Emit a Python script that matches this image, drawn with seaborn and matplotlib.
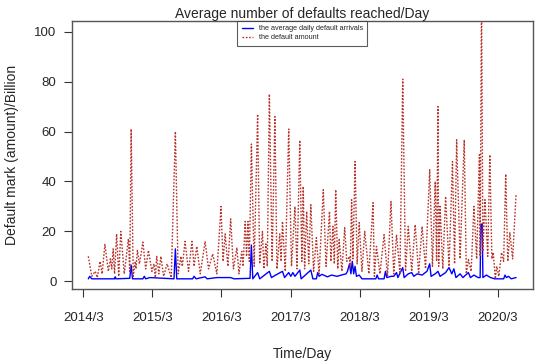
import matplotlib
matplotlib.use("Agg")
import matplotlib.pyplot as plt
import seaborn as sns
import pandas as pd

# ---- data (decimal year, value) ----
amount_time = [
    2014.24, 2014.29, 2014.34, 2014.37, 2014.41, 2014.44, 2014.48, 2014.53, 2014.56, 2014.58,
    2014.60, 2014.62, 2014.65, 2014.68, 2014.71, 2014.76, 2014.82, 2014.84, 2014.86, 2014.89,
    2014.92, 2014.93, 2014.95, 2014.98, 2015.03, 2015.07, 2015.11, 2015.16, 2015.19, 2015.21,
    2015.23, 2015.26, 2015.29, 2015.33, 2015.38, 2015.44, 2015.50, 2015.54, 2015.58, 2015.60,
    2015.64, 2015.69, 2015.74, 2015.77, 2015.81, 2015.86, 2015.93, 2015.98, 2016.04, 2016.10,
    2016.16, 2016.19, 2016.22, 2016.26, 2016.30, 2016.34, 2016.39, 2016.42, 2016.46, 2016.48,
    2016.51, 2016.53, 2016.55, 2016.57, 2016.60, 2016.64, 2016.69, 2016.72, 2016.76, 2016.78,
    2016.81, 2016.83, 2016.86, 2016.90, 2016.94, 2016.97, 2017.01, 2017.03, 2017.05, 2017.09,
    2017.14, 2017.18, 2017.23, 2017.26, 2017.30, 2017.33, 2017.35, 2017.37, 2017.40, 2017.43,
    2017.46, 2017.50, 2017.54, 2017.58, 2017.64, 2017.68, 2017.73, 2017.75, 2017.78, 2017.80,
    2017.82, 2017.85, 2017.87, 2017.91, 2017.95, 2017.98, 2018.02, 2018.03, 2018.05, 2018.07,
    2018.10, 2018.13, 2018.16, 2018.20, 2018.24, 2018.30, 2018.36, 2018.38, 2018.41, 2018.46,
    2018.52, 2018.57, 2018.62, 2018.66, 2018.70, 2018.75, 2018.79, 2018.83, 2018.87, 2018.92,
    2018.97, 2019.02, 2019.07, 2019.12, 2019.18, 2019.22, 2019.26, 2019.28, 2019.30, 2019.31,
    2019.33, 2019.37, 2019.41, 2019.46, 2019.51, 2019.54, 2019.57, 2019.62, 2019.68, 2019.71,
    2019.74, 2019.78, 2019.82, 2019.86, 2019.90, 2019.91, 2019.93, 2019.95, 2019.98, 2020.02,
    2020.05, 2020.08, 2020.10, 2020.13, 2020.15, 2020.18, 2020.22, 2020.25, 2020.28, 2020.31,
    2020.34, 2020.38, 2020.43,
]
amount_value = [
    10, 2, 4, 1.5, 8, 3, 14.8, 4, 9, 5,
    13, 3, 19, 2, 20, 3, 17, 4, 61, 2,
    8, 5, 12.4, 7, 15.7, 5, 12.4, 4, 7, 1.5,
    10, 3, 10, 2, 7, 1.5, 60, 3, 10, 6,
    16, 4, 16, 6, 14, 3, 16, 5, 11, 3,
    30, 8, 19, 6, 25, 5, 13.5, 3, 12, 6,
    24, 10, 24, 8, 55, 6, 67, 7, 20, 5,
    15, 6, 75, 8, 66, 5, 19, 8, 24, 4,
    61, 6, 30, 5, 56.5, 8, 38, 5, 28, 7,
    30.7, 4, 17.5, 3, 36.7, 6, 28, 8, 22, 7,
    36.7, 5, 16.7, 4, 21.5, 8, 10, 5, 32.7, 9,
    48, 7, 23.5, 4, 20, 3, 31.5, 2, 14, 3,
    18.7, 2, 32, 3, 18.7, 3, 81, 4, 22, 4,
    22.7, 3, 22, 5, 44.7, 6, 40, 8, 70, 6,
    30, 5, 34, 6, 48, 7, 56.7, 9, 56.7, 3,
    8.7, 4, 30, 9, 50.7, 10, 115, 12, 32.7, 10,
    50.7, 9, 11.5, 1, 6, 2, 11.5, 8, 43, 8,
    19.5, 9, 35,
]

arrivals_time = [
    2014.24, 2014.26, 2014.29, 2014.62, 2014.63, 2014.64, 2014.84, 2014.86, 2014.88, 2015.03,
    2015.05, 2015.07, 2015.13, 2015.48, 2015.50, 2015.52, 2015.75, 2015.77, 2015.80, 2015.93,
    2015.96, 2016.10, 2016.30, 2016.35, 2016.58, 2016.60, 2016.62, 2016.69, 2016.72, 2016.86,
    2016.89, 2016.95, 2017.05, 2017.08, 2017.14, 2017.17, 2017.20, 2017.23, 2017.30, 2017.32,
    2017.46, 2017.49, 2017.54, 2017.56, 2017.58, 2017.62, 2017.70, 2017.76, 2017.84, 2017.90,
    2017.97, 2017.99, 2018.02, 2018.04, 2018.06, 2018.08, 2018.10, 2018.12, 2018.16, 2018.20,
    2018.40, 2018.42, 2018.44, 2018.52, 2018.54, 2018.56, 2018.62, 2018.66, 2018.70, 2018.72,
    2018.79, 2018.81, 2018.87, 2018.92, 2018.95, 2019.00, 2019.07, 2019.14, 2019.18, 2019.20,
    2019.26, 2019.30, 2019.33, 2019.41, 2019.46, 2019.50, 2019.53, 2019.56, 2019.62, 2019.66,
    2019.74, 2019.77, 2019.82, 2019.88, 2019.91, 2019.92, 2019.94, 2019.95, 2020.00, 2020.06,
    2020.12, 2020.25, 2020.27, 2020.29, 2020.32, 2020.36, 2020.43,
]
arrivals_value = [
    1, 2, 1, 1, 1.8, 1, 1.2, 6.5, 1, 1,
    2, 1, 1.5, 1, 13, 1, 1, 2, 1, 1.8,
    1, 1.5, 1.5, 1, 1.2, 14.5, 1, 3.5, 1, 4,
    1.5, 2.5, 4, 1.5, 3.5, 2, 3.5, 2, 4.5, 1,
    4.5, 1, 1, 3.5, 2, 2.8, 1.8, 2.5, 2, 2.5,
    3, 4, 7, 3, 8, 3, 6, 2, 2.5, 1,
    1, 2.5, 1, 1, 4, 1.5, 2, 2, 3.5, 1.5,
    5.5, 1.5, 3, 3.5, 2, 3, 2.5, 4, 7, 2,
    3, 4, 2, 3.5, 5.5, 3, 5, 1.5, 3, 1.5,
    3.5, 1.5, 2.5, 1.5, 1.5, 22.7, 23, 1.5, 2.5, 1.5,
    1, 1, 2.5, 1.5, 2, 1, 1.5,
]

tick_pos = [2014.167, 2015.167, 2016.167, 2017.167, 2018.167, 2019.167, 2020.167]
tick_labels = ["2014/3", "2015/3", "2016/3", "2017/3", "2018/3", "2019/3", "2020/3"]
y_ticks = [0, 20, 40, 60, 80, 100]

sns.set_style("white")
plt.rcParams["font.family"] = ["Liberation Sans", "DejaVu Sans"]

df_a = pd.DataFrame({"t": arrivals_time, "v": arrivals_value})
df_m = pd.DataFrame({"t": amount_time, "v": amount_value})

fig = plt.figure(figsize=(5.5, 3.64), dpi=100)
ax = fig.add_axes([0.1304, 0.2052, 0.8387, 0.7371])

sns.lineplot(data=df_a, x="t", y="v", ax=ax, color="#0000ff", linewidth=1.0,
             estimator=None, sort=False, label="the average daily default arrivals")
sns.lineplot(data=df_m, x="t", y="v", ax=ax, color="#b8322a", linewidth=1.0,
             estimator=None, sort=False, label="the default amount",
             linestyle=(0, (1.2, 1.2)))

ax.set_xlim(2014.0, 2020.675)
ax.set_ylim(-3.2, 104.3)
ax.set_xticks(tick_pos)
ax.set_xticklabels(tick_labels)
ax.set_yticks(y_ticks)
ax.set_yticklabels([str(v) for v in y_ticks])
ax.tick_params(axis="both", direction="out", length=6, width=0.8, color="#333333",
               labelsize=9.5, bottom=True, left=True)
ax.tick_params(axis="x", pad=10)
ax.tick_params(axis="y", pad=5)
for s in ax.spines.values():
    s.set_color("#555555")
    s.set_linewidth(1.0)

ax.set_xlabel("Time/Day", fontsize=10, labelpad=17)
ax.set_ylabel("Default mark (amount)/Billion", fontsize=10, labelpad=11)
ax.set_title("Average number of defaults reached/Day", fontsize=10, pad=2)

leg = ax.legend(loc="upper center", bbox_to_anchor=(0.5, 1.0), borderaxespad=0,
                fontsize=5.2, frameon=True, fancybox=False, handlelength=1.6,
                borderpad=0.6, labelspacing=0.25)
leg.get_frame().set_edgecolor("#333333")
leg.get_frame().set_linewidth(0.8)

fig.savefig("out.png", dpi=100)
